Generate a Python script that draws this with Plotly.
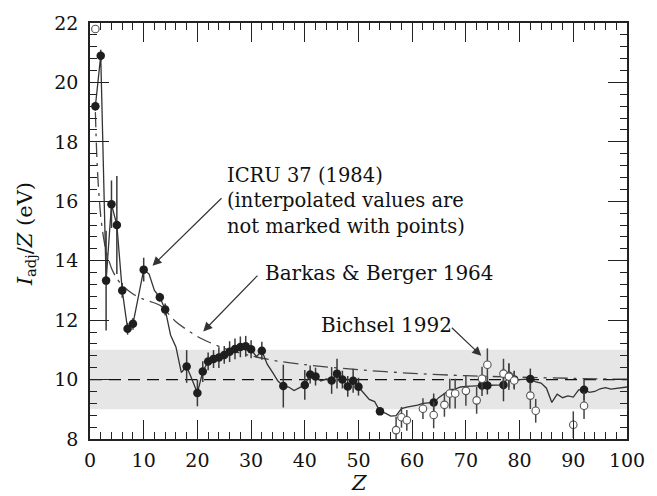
import plotly.graph_objects as go

# ICRU 37 (1984) adopted values, I_adj/Z (eV) -- solid line, Z = 1..100
z_line = list(range(1, 101))
icru_line = [19.2, 20.9, 13.33, 15.9, 15.2, 13.0, 11.71, 11.875, 12.78, 13.7,
             13.55, 13.0, 12.77, 12.36, 11.5, 11.1, 10.24, 10.44, 10.0, 9.55,
             10.27, 10.61, 10.69, 10.74, 10.83, 10.94, 11.03, 11.1, 11.12, 11.02,
             10.77, 10.97, 10.52, 10.24, 9.95, 9.78, 9.75, 9.63, 9.72, 9.82,
             10.17, 10.1, 9.95, 10.02, 9.97, 10.2, 10.0, 9.77, 9.96, 9.76,
             9.55, 9.33, 9.26, 8.93, 8.87, 8.77, 8.79, 9.02, 9.07, 9.1,
             9.14, 9.2, 9.21, 9.23, 9.4, 9.52, 9.66, 9.68, 9.75, 9.77,
             9.77, 9.79, 9.8, 9.8, 9.81, 9.82, 9.82, 10.13, 10.0, 10.0,
             10.0, 10.02, 9.92, 9.88, 9.71, 9.23, 9.51, 9.39, 9.45, 9.41,
             9.65, 9.66, 9.57, 9.6, 9.69, 9.73, 9.68, 9.71, 9.72, 9.75]

# ICRU measured values (filled points) with error bars
z_meas = [1, 2, 3, 4, 5, 6, 7, 8, 10, 13, 14, 18, 20, 21, 22, 23, 24, 25, 26, 27,
          28, 29, 30, 32, 36, 40, 41, 42, 45, 46, 47, 48, 49, 50, 54, 64, 73, 74,
          77, 78, 79, 82, 92]
i_meas = [19.2, 20.9, 13.33, 15.9, 15.2, 13.0, 11.71, 11.875, 13.7, 12.77, 12.36,
          10.44, 9.55, 10.27, 10.61, 10.69, 10.74, 10.83, 10.94, 11.03, 11.1, 11.12,
          11.02, 10.97, 9.78, 9.82, 10.17, 10.1, 9.97, 10.2, 10.0, 9.77, 9.96, 9.76,
          8.93, 9.23, 9.8, 9.8, 9.82, 10.13, 10.0, 10.02, 9.66]
e_meas = [0.15, 0.2, 1.68, 0.8, 1.65, 0.25, 0.2, 0.2, 0.4, 0.15, 0.2,
          0.55, 0.45, 0.35, 0.3, 0.3, 0.35, 0.3, 0.35, 0.35, 0.35, 0.35,
          0.3, 0.3, 0.72, 0.5, 0.3, 0.3, 0.45, 0.5, 0.3, 0.35, 0.4, 0.3,
          0.1, 0.3, 0.35, 0.3, 0.55, 0.4, 0.3, 0.35, 0.35]

# Bichsel 1992 (open points)
z_bich = [1, 57, 58, 59, 62, 64, 66, 67, 68, 70, 72, 73, 74, 77, 78, 79, 82, 83, 90, 92]
i_bich = [21.8, 8.3, 8.73, 8.63, 9.02, 8.81, 9.15, 9.53, 9.53, 9.62, 9.3, 10.03,
          10.5, 10.2, 10.1, 9.97, 9.46, 8.95, 8.48, 9.12]
e_bich = [0.0, 0.45, 0.35, 0.35, 0.35, 0.45, 0.4, 0.5, 0.5, 0.5, 0.45, 0.4,
          0.55, 0.5, 0.45, 0.3, 0.45, 0.4, 0.45, 0.45]

# Barkas & Berger 1964 (dash-dot curve)
z_bb = [1, 1.25, 1.5, 2, 2.5, 3, 4, 5, 6, 8, 10, 13, 16, 20, 25, 30, 35, 40, 50,
        60, 70, 80, 90, 100]
i_bb = [19.0, 17.6, 16.67, 15.5, 14.8, 14.33, 13.75, 13.4, 13.17, 12.88, 12.7,
        12.5, 11.95, 11.45, 11.05, 10.8, 10.62, 10.5, 10.33, 10.21, 10.13, 10.08,
        10.04, 10.01]

# reference line and band
ref_x = [0, 100]
ref_y = [10, 10]
band = (9, 11)

FONT = "DejaVu Serif"

fig = go.Figure()
fig.add_shape(type="rect", xref="x", yref="y", x0=0, x1=100, y0=band[0], y1=band[1],
              fillcolor="#e6e6e6", line_width=0, layer="below")

fig.add_trace(go.Scatter(x=ref_x, y=ref_y, mode="lines",
                         line=dict(color="#111", width=1.3, dash="12px,7px")))
fig.add_trace(go.Scatter(x=z_bb, y=i_bb, mode="lines",
                         line=dict(color="#444", width=1.3, dash="15px,6px,3px,6px",
                                   shape="spline", smoothing=0.8)))
fig.add_trace(go.Scatter(x=z_line, y=icru_line, mode="lines",
                         line=dict(color="#333", width=1.3)))
fig.add_trace(go.Scatter(x=z_meas, y=i_meas, mode="markers",
                         marker=dict(color="#1e1e1e", size=8.5, line=dict(width=0)),
                         error_y=dict(type="data", array=e_meas, visible=True,
                                      thickness=1.5, width=0, color="#3a3a3a")))
fig.add_trace(go.Scatter(x=z_bich, y=i_bich, mode="markers",
                         marker=dict(color="white", size=7.5, line=dict(color="#555", width=1.1)),
                         error_y=dict(type="data", array=e_bich, visible=True,
                                      thickness=1.5, width=0, color="#444")))

arrow = dict(xref="x", yref="y", axref="x", ayref="y", text="", showarrow=True,
             arrowhead=2, arrowsize=1.5, arrowwidth=1.2, arrowcolor="#333")
ann = [
    dict(x=11.64, y=13.83, ax=24.77, ay=16.15, **arrow),
    dict(x=21.09, y=11.62, ax=31.46, ay=13.55, **arrow),
    dict(x=72.87, y=10.8, ax=67.1, ay=11.79, **arrow),
]
txt = dict(xref="x", yref="y", showarrow=False, xanchor="left", yanchor="middle",
           font=dict(family=FONT, size=20, color="#111"))
ann += [
    dict(x=25.2, y=16.02, align="left",
         text="ICRU 37 (1984)<br>(interpolated values are<br>not marked with points)",
         **{**txt, "font": dict(family=FONT, size=19.5, color="#111")}),
    dict(x=32.3, y=13.57, text="Barkas &amp; Berger 1964", **txt),
    dict(x=42.6, y=11.84, text="Bichsel 1992", **txt),
    dict(xref="paper", yref="paper", x=-0.12, y=0.491, textangle=-90,
         text="<i>I</i><sub>adj</sub>/<i>Z</i> (eV)", showarrow=False,
         xanchor="center", yanchor="middle", font=dict(family=FONT, size=21, color="#111")),
    dict(xref="paper", yref="paper", x=0.5, y=-0.105, text="<i>Z</i>", showarrow=False,
         xanchor="center", yanchor="middle", font=dict(family=FONT, size=21, color="#111")),
]

fig.update_layout(
    width=657, height=496, margin=dict(l=90, r=20, t=16, b=57),
    plot_bgcolor="white", paper_bgcolor="white", showlegend=False,
    font=dict(family=FONT, size=19, color="#111"), annotations=ann,
)
common = dict(ticks="inside", tickwidth=1.2, tickcolor="#222", showline=True,
              linecolor="#222", linewidth=1.5, mirror="ticks", showgrid=False,
              zeroline=False, tickfont=dict(family=FONT, size=19, color="#111"))
fig.update_xaxes(range=[0, 100], dtick=10, tick0=0, ticklen=19, ticklabelstandoff=3,
                 minor=dict(dtick=2, ticks="inside", ticklen=7, tickcolor="#222",
                            tickwidth=1.2, showgrid=False), **common)
fig.update_yaxes(range=[8, 22], dtick=2, tick0=8, ticklen=19, ticklabelstandoff=6,
                 minor=dict(dtick=0.4, ticks="inside", ticklen=7, tickcolor="#222",
                            tickwidth=1.2, showgrid=False), **common)

fig.write_html("out.html")
